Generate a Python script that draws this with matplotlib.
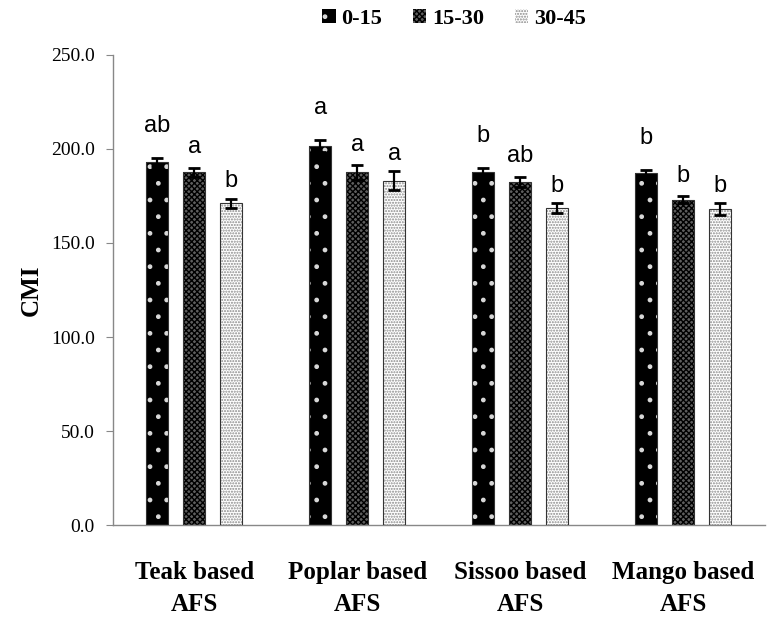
import matplotlib
matplotlib.use("Agg")
import matplotlib.pyplot as plt
import numpy as np

# Data: CMI by soil depth (cm) for four agroforestry systems
categories = ["Teak based\nAFS", "Poplar based\nAFS", "Sissoo based\nAFS", "Mango based\nAFS"]
depths = ["0-15", "15-30", "30-45"]
cmi_0_15 = [193.0, 201.5, 187.5, 187.0]
cmi_15_30 = [187.5, 187.5, 182.5, 173.0]
cmi_30_45 = [171.0, 183.0, 168.5, 168.0]
err_0_15 = [2.0, 3.0, 2.5, 1.8]
err_15_30 = [2.5, 3.8, 2.8, 1.8]
err_30_45 = [2.5, 5.0, 2.5, 3.0]
sig_0_15 = ["ab", "a", "b", "b"]
sig_15_30 = ["a", "a", "ab", "b"]
sig_30_45 = ["b", "a", "b", "b"]
yticks = [0, 50, 100, 150, 200, 250]

values = [cmi_0_15, cmi_15_30, cmi_30_45]
errors = [err_0_15, err_15_30, err_30_45]
letters = [sig_0_15, sig_15_30, sig_30_45]

serif = "Liberation Serif"
sans = "Liberation Sans"
plt.rcParams["hatch.linewidth"] = 1.0

fig = plt.figure(figsize=(7.67, 6.23), dpi=100)
ax = fig.add_axes([0.147, 0.157, 0.85, 0.755])

x = np.arange(len(categories))
width = 0.135
step = 0.228
offsets = [-step, 0.0, step]

# fill colour, hatch colour, hatch pattern for each depth
styles = [
    ("#000000", "#d8d8d8", "."),
    ("#5e5e5e", "#000000", "xxxxxx"),
    ("#ffffff", "#8a8a8a", "......"),
]
letter_pad = [17, 11, 9.5]

handles = []
for i in range(3):
    face, hcol, hatch = styles[i]
    xs = x + offsets[i]
    ax.bar(xs, values[i], width, color=face, edgecolor=hcol, hatch=hatch,
           linewidth=0, zorder=2)
    ax.bar(xs, values[i], width, facecolor="none", edgecolor="#333333",
           linewidth=0.8, zorder=3)
    ax.errorbar(xs, values[i], yerr=errors[i], fmt="none", ecolor="black",
                elinewidth=1.6, capsize=4.5, capthick=2, zorder=4)
    for xi, v, e, t in zip(xs, values[i], errors[i], letters[i]):
        ax.text(xi, v + e + letter_pad[i], t, ha="center", va="center",
                fontsize=17, family=sans, color="black")
    handles.append(plt.Rectangle((0, 0), 1, 1, facecolor=face, edgecolor=hcol,
                                 hatch=hatch, linewidth=0))

ax.set_xlim(-0.5, len(categories) - 0.5)
ax.set_ylim(0, 250)
ax.set_yticks(yticks)
ax.set_yticklabels([f"{t:.1f}" for t in yticks], family=serif, fontsize=14)
ax.set_xticks(x)
ax.set_xticklabels(categories, family=serif, fontsize=18, fontweight="bold",
                   linespacing=1.5)
ax.tick_params(axis="x", length=0, pad=26)
ax.tick_params(axis="y", length=5, color="#888888", direction="out", pad=8)
for s in ["top", "right"]:
    ax.spines[s].set_visible(False)
for s in ["left", "bottom"]:
    ax.spines[s].set_color("#888888")
    ax.spines[s].set_linewidth(1.0)

ax.set_ylabel("CMI", family=serif, fontsize=18, fontweight="bold", labelpad=6)

fig.legend(handles, depths, loc="upper center", bbox_to_anchor=(0.592, 1.018),
           ncol=3, frameon=False, handlelength=0.6, handleheight=0.6,
           handletextpad=0.25, columnspacing=1.4,
           prop={"family": serif, "weight": "bold", "size": 16})

fig.savefig("out.png", dpi=100)
